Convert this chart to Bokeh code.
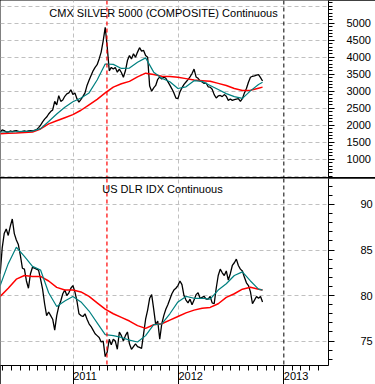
import numpy as np
import pandas as pd
from bokeh.plotting import figure
from bokeh.models import FixedTicker, Span, Label, Range1d
from bokeh.layouts import column
from bokeh.embed import file_html
from bokeh.resources import INLINE

# ---------------- data ----------------
week_start = "2010-04-23"
n_weeks = 131

silver = [1800, 1860, 1840, 1800, 1800, 1830, 1810, 1830, 1840, 1820,
          1800, 1820, 1830, 1810, 1830, 1840, 1830, 1850, 1870, 1930,
          2000, 2100, 2180, 2240, 2330, 2400, 2450, 2700, 2600, 2870,
          2700, 2740, 2850, 2920, 2950, 3040, 2900, 2950, 2780, 2680,
          2760, 2850, 2950, 3170, 3320, 3460, 3600, 3700, 3780, 3950,
          4150, 4480, 4880, 4300, 3600, 3700, 3650, 3700, 3560, 3650,
          3550, 3410, 3600, 3900, 4050, 3950, 4100, 4000, 4150, 4280,
          4180, 4200, 4050, 4000, 3150, 3000, 3100, 3170, 3350, 3420,
          3360, 3420, 3380, 3280, 3180, 3070, 2950, 2800, 2780, 2980,
          3100, 3200, 3270, 3340, 3420, 3520, 3650, 3420, 3380, 3300,
          3270, 3230, 3240, 3130, 3120, 3060, 2900, 2800, 2860, 2875,
          2840, 2900, 2850, 2730, 2770, 2730, 2750, 2770, 2780, 2700,
          2780, 2950, 3080, 3265, 3410, 3440, 3450, 3470, 3490, 3400, 3300]

dollar = [82.4, 85.2, 86.8, 87.3, 86.6, 87.6, 88.4, 86.8, 86.1, 85.6,
          84.4, 83.0, 82.9, 81.6, 80.8, 82.4, 83.1, 83.0, 82.9, 82.8,
          81.8, 80.7, 79.1, 77.8, 78.2, 77.8, 77.4, 76.2, 77.8, 78.8,
          79.4, 80.2, 80.6, 80.0, 80.3, 80.8, 81.1, 80.4, 79.4, 78.0,
          77.8, 77.7, 78.0, 77.4, 76.9, 76.6, 76.2, 75.8, 75.6, 75.4,
          74.9, 75.0, 73.3, 73.8, 75.2, 74.6, 75.2, 75.0, 74.1, 76.0,
          75.6, 75.0, 75.6, 76.0, 74.7, 74.1, 74.4, 74.7, 74.4, 74.3,
          74.2, 75.8, 77.4, 78.4, 79.7, 80.1, 78.5, 76.8, 77.2, 75.2,
          76.9, 77.8, 78.5, 79.0, 79.6, 80.2, 80.6, 80.8, 81.1, 81.6,
          81.2, 80.0, 79.5, 79.2, 79.6, 79.0, 79.5, 80.1, 80.3, 79.7,
          79.8, 79.9, 79.6, 79.6, 79.9, 79.2, 79.1, 80.8, 82.2, 82.9,
          82.5, 82.2, 82.7, 81.7, 82.4, 83.3, 83.6, 84.0, 83.3, 82.9,
          82.7, 82.0, 81.4, 81.1, 80.4, 79.1, 79.5, 79.9, 79.7, 79.9, 79.3]

# moving averages, sampled every 4 weeks plus the last week
ma_weeks = [0, 4, 8, 12, 16, 20, 24, 28, 32, 36, 40, 44, 48, 52, 56, 60, 64,
            68, 72, 76, 80, 84, 88, 92, 96, 100, 104, 108, 112, 116, 120, 124, 128, 130]

silver_fast = [1800, 1805, 1810, 1820, 1828, 1900, 2110, 2330, 2530, 2690, 2800, 2950,
               3330, 3800, 3790, 3670, 3680, 3850, 3980, 3560, 3380, 3280, 3080, 3130,
               3310, 3290, 3170, 3050, 2930, 2840, 2790, 3010, 3200, 3265]
silver_slow = [1750, 1760, 1770, 1785, 1800, 1890, 2040, 2130, 2220, 2310, 2440, 2600,
               2760, 2950, 3120, 3220, 3290, 3420, 3530, 3490, 3440, 3430, 3410, 3370,
               3330, 3310, 3290, 3230, 3170, 3080, 3020, 3030, 3090, 3120]
dollar_fast = [81.1, 83.5, 85.3, 84.3, 83.2, 82.8, 80.3, 78.8, 79.4, 79.9, 79.3, 78.3,
               77.0, 75.7, 75.6, 75.4, 75.1, 74.9, 75.6, 76.8, 76.9, 78.0, 79.3, 79.9,
               79.7, 79.7, 79.6, 80.6, 81.3, 82.2, 82.6, 81.6, 80.7, 80.6]
dollar_slow = [79.9, 80.8, 81.8, 82.2, 82.1, 82.1, 81.6, 80.9, 80.6, 80.6, 80.4, 79.9,
               79.2, 78.5, 78.0, 77.6, 77.2, 76.7, 76.4, 76.8, 76.9, 77.3, 77.7, 78.1,
               78.4, 78.6, 78.7, 79.1, 79.8, 80.2, 80.7, 80.9, 80.7, 80.6]

silver_ticks = [1000, 1500, 2000, 2500, 3000, 3500, 4000, 4500, 5000]
dollar_ticks = [75, 80, 85, 90]
year_ticks = [2011, 2012, 2013]
peak_date = "2011-04-28"
marker_date = "2013-01-01"

title_top = "CMX SILVER 5000 (COMPOSITE) Continuous"
title_bottom = "US DLR IDX Continuous"


def dec_year(ts):
    ts = pd.DatetimeIndex(pd.to_datetime(ts))
    days = np.where(ts.is_leap_year, 366.0, 365.0)
    return np.asarray(ts.year + (ts.dayofyear - 1) / days, dtype=float)


weeks = pd.date_range(week_start, periods=n_weeks, freq="7D")
t_all = dec_year(weeks)
t_ma = t_all[ma_weeks]
t_peak = float(dec_year([peak_date])[0])
t_mark = float(dec_year([marker_date])[0])
month_ticks = list(dec_year(pd.date_range("2010-05-01", "2013-05-01", freq="MS")))

FONT = "Liberation Sans"
GRID = "#c0c0c0"
TEAL = "#008080"

x_range = Range1d(2010.310, 2013.424)


def style_common(p):
    p.outline_line_color = None
    p.background_fill_color = "white"
    p.border_fill_color = "white"
    ax = p.yaxis[0]
    ax.axis_line_color = "black"
    ax.major_tick_line_color = "black"
    ax.minor_tick_line_color = "black"
    ax.major_tick_in = 0
    ax.minor_tick_in = 0
    ax.major_tick_out = 6
    ax.minor_tick_out = 4
    ax.major_label_text_font = FONT
    ax.major_label_text_font_size = "11px"
    ax.major_label_text_color = "black"
    p.ygrid.grid_line_color = GRID
    p.ygrid.grid_line_dash = "4 3"
    p.xgrid.grid_line_color = GRID
    p.xgrid.grid_line_dash = "4 3"
    p.xgrid.ticker = FixedTicker(ticks=[2011, 2012])
    p.add_layout(Span(location=t_peak, dimension="height", line_color="red",
                      line_dash="4 3", line_width=1.2))
    p.add_layout(Span(location=t_mark, dimension="height", line_color="black",
                      line_dash="4 3", line_width=1))


# ---------------- top panel ----------------
p1 = figure(frame_width=328, frame_height=177, x_range=x_range,
            y_range=Range1d(462, 5668), output_backend="svg", toolbar_location=None,
            x_axis_location=None, y_axis_location="right",
            min_border_left=0, min_border_top=0, min_border_bottom=0, min_border_right=47)
style_common(p1)
p1.yaxis[0].ticker = FixedTicker(ticks=silver_ticks, minor_ticks=list(range(500, 5601, 100)))
p1.yaxis[0].major_label_standoff = 12
p1.ygrid.ticker = FixedTicker(ticks=list(range(500, 5501, 500)))
p1.line(t_all, silver, line_color="black", line_width=1.3)
p1.line(t_ma, silver_slow, line_color="red", line_width=1.5)
p1.line(t_ma, silver_fast, line_color=TEAL, line_width=1.2)
p1.add_layout(Label(x=163, y=165, x_units="screen", y_units="screen", text=title_top,
                    text_align="center", text_baseline="middle", text_font=FONT,
                    text_font_size="11px", text_color="black"))

# ---------------- bottom panel ----------------
p2 = figure(frame_width=328, frame_height=187, x_range=x_range,
            y_range=Range1d(72.32, 92.85), output_backend="svg", toolbar_location=None,
            y_axis_location="right",
            min_border_left=0, min_border_top=0, min_border_bottom=0, min_border_right=47)
style_common(p2)
p2.yaxis[0].ticker = FixedTicker(ticks=dollar_ticks, minor_ticks=list(range(73, 93)))
p2.yaxis[0].major_label_standoff = 26
p2.ygrid.ticker = FixedTicker(ticks=dollar_ticks)
xa = p2.xaxis[0]
xa.ticker = FixedTicker(ticks=year_ticks, minor_ticks=month_ticks)
xa.axis_line_color = "black"
xa.major_tick_line_color = "black"
xa.minor_tick_line_color = "black"
xa.major_tick_in = 0
xa.minor_tick_in = 0
xa.major_tick_out = 19
xa.minor_tick_out = 5
xa.major_label_orientation = -1e-6
xa.major_label_standoff = -9
xa.major_label_text_font = FONT
xa.major_label_text_font_size = "11px"
xa.major_label_text_color = "black"
p2.line(t_all, dollar, line_color="black", line_width=1.3)
p2.line(t_ma, dollar_slow, line_color="red", line_width=1.5)
p2.line(t_ma, dollar_fast, line_color=TEAL, line_width=1.2)
p2.add_layout(Label(x=162, y=177, x_units="screen", y_units="screen", text=title_bottom,
                    text_align="center", text_baseline="middle", text_font=FONT,
                    text_font_size="11px", text_color="black"))

layout = column(p1, p2, spacing=1, styles={"background-color": "black"})

open("out.html", "w").write(file_html(layout, INLINE))
